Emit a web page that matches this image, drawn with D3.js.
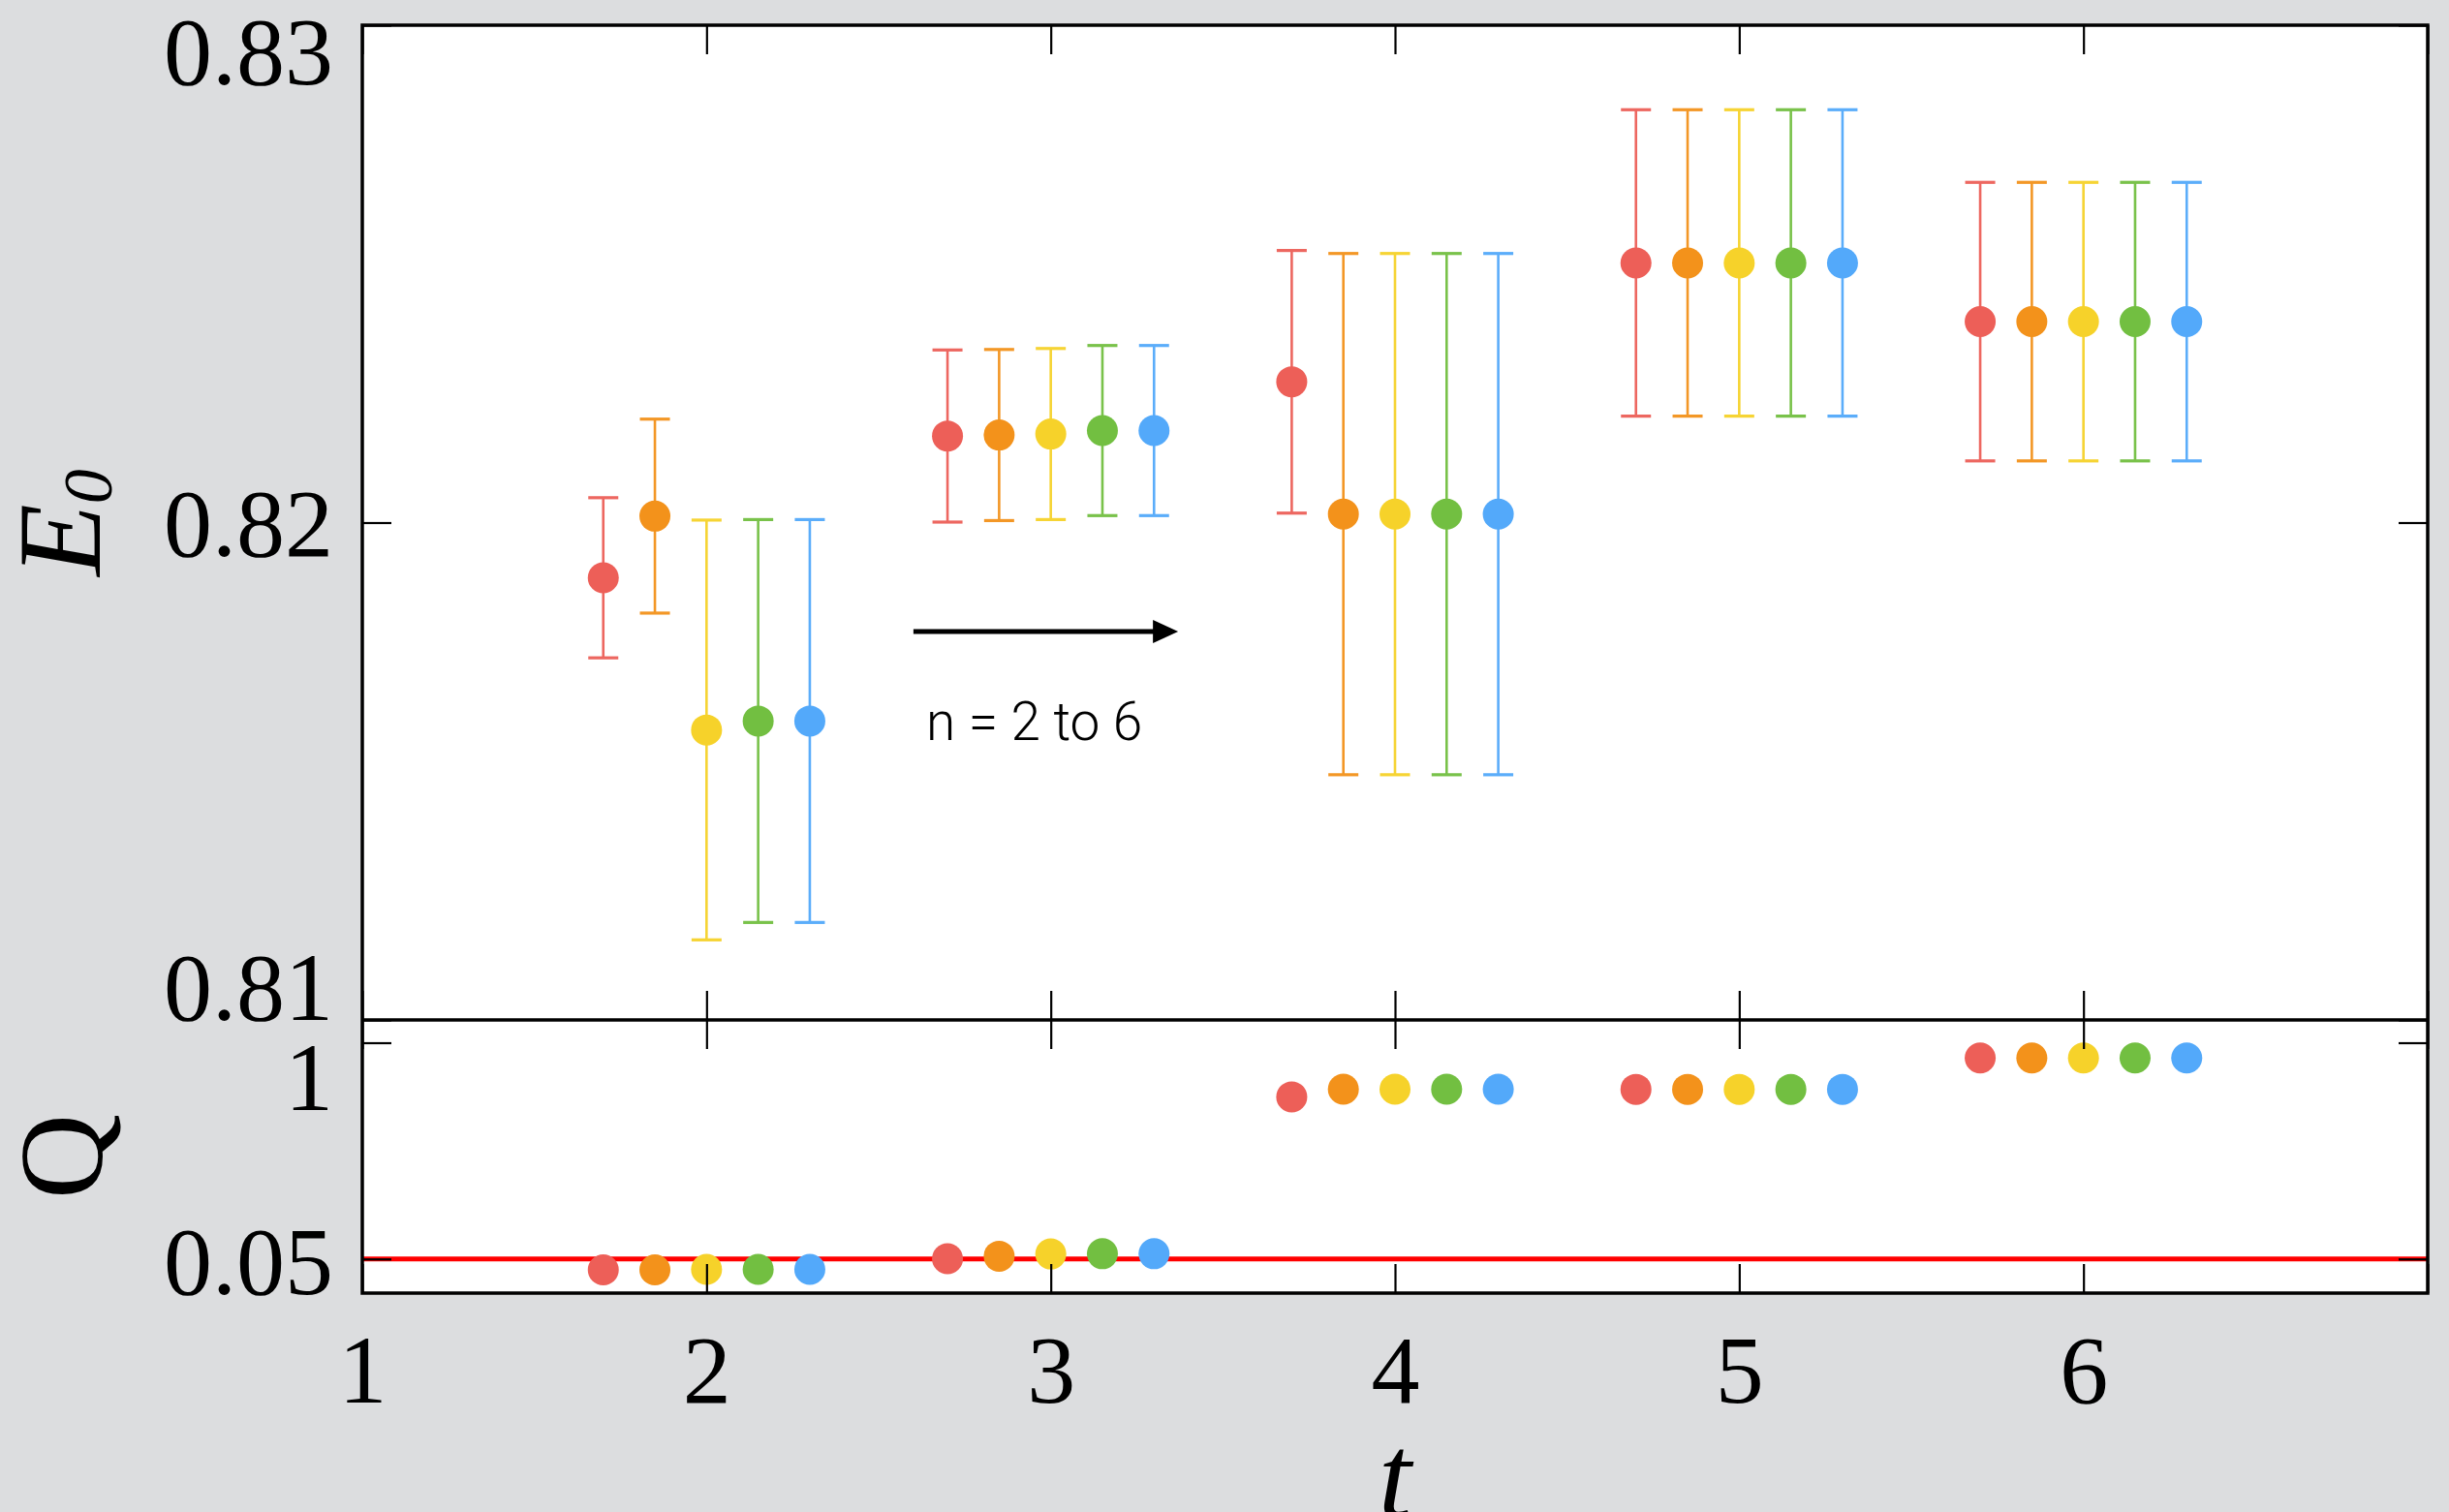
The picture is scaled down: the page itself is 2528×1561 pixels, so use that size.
<!DOCTYPE html>
<html>
<head>
<meta charset="utf-8">
<script src="https://cdn.jsdelivr.net/npm/d3@7"></script>
<style>
  html, body { margin: 0; padding: 0; background: #dcdddf; }
  svg { display: block; }
</style>
</head>
<body>
<svg id="chart" width="2528" height="1561"></svg>
<script>
// ---- data -------------------------------------------------------------
const tValues = [2, 3, 4, 5, 6];
const nLabels = ["n = 2", "n = 3", "n = 4", "n = 5", "n = 6"];
const nOffsets = [-0.3, -0.15, 0, 0.15, 0.3];
const nColors = ["#ed5f58", "#f3921b", "#f6d22a", "#72bf41", "#53a9fa"];

// ground-state energy E0 per fit window n, at each t
const e0_n2 = [0.81889, 0.82174, 0.82283, 0.82522, 0.82404];
const e0_n3 = [0.82013, 0.82176, 0.82017, 0.82522, 0.82404];
const e0_n4 = [0.81583, 0.82178, 0.82017, 0.82522, 0.82404];
const e0_n5 = [0.81601, 0.82185, 0.82017, 0.82522, 0.82404];
const e0_n6 = [0.81601, 0.82185, 0.82017, 0.82522, 0.82404];

const err_n2 = [0.00161, 0.00173, 0.00264, 0.00308, 0.00280];
const err_n3 = [0.00195, 0.00172, 0.00524, 0.00308, 0.00280];
const err_n4 = [0.00422, 0.00172, 0.00524, 0.00308, 0.00280];
const err_n5 = [0.00405, 0.00171, 0.00524, 0.00308, 0.00280];
const err_n6 = [0.00405, 0.00171, 0.00524, 0.00308, 0.00280];

// fit quality Q
const q_n2 = [0.002, 0.051, 0.762, 0.795, 0.933];
const q_n3 = [0.002, 0.062, 0.796, 0.795, 0.933];
const q_n4 = [0.004, 0.072, 0.796, 0.795, 0.933];
const q_n5 = [0.004, 0.073, 0.796, 0.795, 0.933];
const q_n6 = [0.004, 0.073, 0.796, 0.795, 0.933];

const qThreshold = 0.05;

const xTicks = [1, 2, 3, 4, 5, 6, 7];
const xTickLabels = ["1", "2", "3", "4", "5", "6", ""];
const e0Ticks = [0.81, 0.82, 0.83];
const e0TickLabels = ["0.81", "0.82", "0.83"];
const qTicks = [0.05, 1];
const qTickLabels = ["0.05", "1"];

const e0Series = [e0_n2, e0_n3, e0_n4, e0_n5, e0_n6];
const errSeries = [err_n2, err_n3, err_n4, err_n5, err_n6];
const qSeries = [q_n2, q_n3, q_n4, q_n5, q_n6];

// ---- layout -----------------------------------------------------------
const L = 374, R = 2506, T = 26, MID = 1053, B = 1335;
const TICK = 30;
const serif = "'Liberation Serif', 'Times New Roman', serif";

const svg = d3.select("#chart");

const x = d3.scaleLinear().domain([1, 7]).range([L, R]);
const yE = d3.scaleLinear().domain([0.81, 0.83]).range([MID, T]);
const yQ = d3.scaleLinear().domain([-0.1, 1.1]).range([B, MID]);

// plot panels
svg.append("rect").attr("x", L).attr("y", T).attr("width", R - L).attr("height", B - T)
  .attr("fill", "#ffffff");

// flatten into point records
const points = [];
e0Series.forEach((vals, i) => {
  vals.forEach((v, j) => {
    points.push({
      n: nLabels[i], color: nColors[i],
      t: tValues[j] + nOffsets[i],
      e0: v, err: errSeries[i][j], q: qSeries[i][j]
    });
  });
});

// ---- upper panel: E0 with error bars ----------------------------------
const gE = svg.append("g");
const capHalf = 15.5;
const bars = gE.selectAll("g.bar").data(points).join("g").attr("class", "bar")
  .attr("stroke", d => d.color).attr("stroke-width", 2.6).attr("opacity", 0.95);
bars.append("line")
  .attr("x1", d => x(d.t)).attr("x2", d => x(d.t))
  .attr("y1", d => yE(d.e0 + d.err)).attr("y2", d => yE(d.e0 - d.err));
bars.append("line")
  .attr("x1", d => x(d.t) - capHalf).attr("x2", d => x(d.t) + capHalf)
  .attr("y1", d => yE(d.e0 + d.err)).attr("y2", d => yE(d.e0 + d.err))
  .attr("stroke-width", 3.2);
bars.append("line")
  .attr("x1", d => x(d.t) - capHalf).attr("x2", d => x(d.t) + capHalf)
  .attr("y1", d => yE(d.e0 - d.err)).attr("y2", d => yE(d.e0 - d.err))
  .attr("stroke-width", 3.2);

gE.selectAll("circle").data(points).join("circle")
  .attr("cx", d => x(d.t)).attr("cy", d => yE(d.e0)).attr("r", 16)
  .attr("fill", d => d.color);

// annotation arrow: fit window grows from n = 2 to 6
const arrowY = yE(0.81781);
const ax0 = x(2.601), ax1 = x(3.370);
svg.append("line")
  .attr("x1", ax0).attr("x2", ax1 - 22).attr("y1", arrowY).attr("y2", arrowY)
  .attr("stroke", "#000").attr("stroke-width", 5);
svg.append("path")
  .attr("d", `M${ax1},${arrowY} L${ax1 - 26},${arrowY - 12} L${ax1 - 26},${arrowY + 12} Z`)
  .attr("fill", "#000");
svg.append("text")
  .attr("x", x(2.638)).attr("y", yE(0.81563))
  .attr("font-family", "Roboto, 'Open Sans', sans-serif").attr("font-weight", 300)
  .attr("font-size", 55).attr("fill", "#000")
  .text("n = 2 to 6");

// ---- lower panel: Q ----------------------------------------------------
svg.append("line")
  .attr("x1", L).attr("x2", R).attr("y1", yQ(qThreshold)).attr("y2", yQ(qThreshold))
  .attr("stroke", "#ff0000").attr("stroke-width", 5);

svg.append("g").selectAll("circle").data(points).join("circle")
  .attr("cx", d => x(d.t)).attr("cy", d => yQ(d.q)).attr("r", 16)
  .attr("fill", d => d.color);

// ---- axes (ticks point inward on every side) --------------------------
function styleAxis(g) {
  g.select(".domain").remove();
  g.selectAll(".tick line").attr("stroke", "#000").attr("stroke-width", 2.2);
  g.selectAll(".tick text").attr("font-family", serif).attr("font-size", 100).attr("fill", "#000");
}
const noLabel = () => "";

svg.append("g").attr("transform", `translate(0,${T})`)
  .call(d3.axisTop(x).tickValues(xTicks).tickSize(-TICK).tickFormat(noLabel)).call(styleAxis);
svg.append("g").attr("transform", `translate(0,${MID})`)
  .call(d3.axisBottom(x).tickValues(xTicks).tickSize(-TICK).tickFormat(noLabel)).call(styleAxis);
svg.append("g").attr("transform", `translate(0,${MID})`)
  .call(d3.axisTop(x).tickValues(xTicks).tickSize(-TICK).tickFormat(noLabel)).call(styleAxis);
svg.append("g").attr("transform", `translate(0,${B})`)
  .call(d3.axisBottom(x).tickValues(xTicks).tickSize(-TICK).tickPadding(42)
    .tickFormat((d, i) => xTickLabels[i])).call(styleAxis);

// E0 axis; the end labels sit just inside the panel
const e0LabelShift = [-35, 0, 26];
svg.append("g").attr("transform", `translate(${L},0)`)
  .call(d3.axisLeft(yE).tickValues(e0Ticks).tickSize(-TICK).tickPadding(30)
    .tickFormat((d, i) => e0TickLabels[i])).call(styleAxis)
  .selectAll(".tick text").attr("dy", "0.34em")
  .attr("y", (d, i) => e0LabelShift[i]);
svg.append("g").attr("transform", `translate(${R},0)`)
  .call(d3.axisRight(yE).tickValues(e0Ticks).tickSize(-TICK).tickFormat(noLabel)).call(styleAxis);

const qLabelShift = [2, 35];
svg.append("g").attr("transform", `translate(${L},0)`)
  .call(d3.axisLeft(yQ).tickValues(qTicks).tickSize(-TICK).tickPadding(30)
    .tickFormat((d, i) => qTickLabels[i])).call(styleAxis)
  .selectAll(".tick text").attr("dy", "0.34em")
  .attr("y", (d, i) => qLabelShift[i]);
svg.append("g").attr("transform", `translate(${R},0)`)
  .call(d3.axisRight(yQ).tickValues(qTicks).tickSize(-TICK).tickFormat(noLabel)).call(styleAxis);

// frames
svg.append("rect").attr("x", L).attr("y", T).attr("width", R - L).attr("height", B - T)
  .attr("fill", "none").attr("stroke", "#000").attr("stroke-width", 3.5);
svg.append("line").attr("x1", L).attr("x2", R).attr("y1", MID).attr("y2", MID)
  .attr("stroke", "#000").attr("stroke-width", 3.5);

// ---- axis titles -------------------------------------------------------
const e0Title = svg.append("text")
  .attr("transform", `translate(103,${yE(0.82)}) rotate(-90)`)
  .attr("text-anchor", "middle").attr("font-family", serif)
  .attr("font-style", "italic").attr("font-size", 122).attr("fill", "#000");
e0Title.append("tspan").text("E");
e0Title.append("tspan").attr("font-size", 72).attr("dy", 12).text("0");

svg.append("text")
  .attr("transform", `translate(105,${(MID + B) / 2}) rotate(-90)`)
  .attr("text-anchor", "middle").attr("font-family", serif)
  .attr("font-size", 122).attr("fill", "#000").text("Q");

svg.append("text")
  .attr("x", x(4)).attr("y", 1566)
  .attr("text-anchor", "middle").attr("font-family", serif)
  .attr("font-style", "italic").attr("font-size", 122).attr("fill", "#000").text("t");
</script>
</body>
</html>
